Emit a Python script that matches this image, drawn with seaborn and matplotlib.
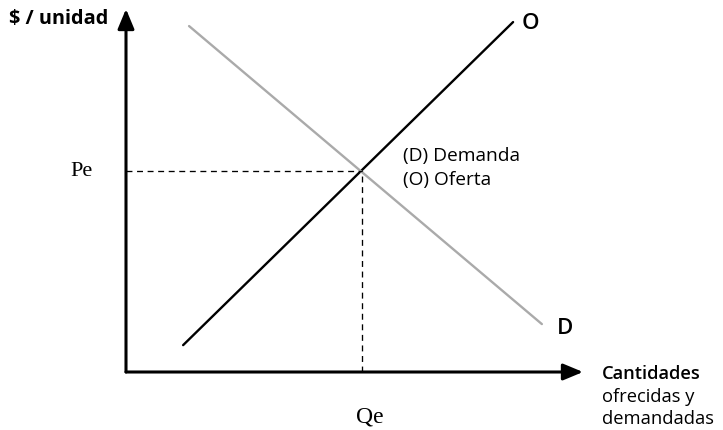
import matplotlib
matplotlib.use("Agg")
import matplotlib.pyplot as plt
import seaborn as sns
import pandas as pd

# ---- data (quantity, price) in chart units ----
curve_names = ["O", "D"]
supply_q = [1.25, 8.47]
supply_p = [0.74, 9.64]
demand_q = [1.38, 9.10]
demand_p = [9.53, 1.32]
q_eq = 5.16
p_eq = 5.54
eq_labels = ["Pe", "Qe"]
legend_lines = ["(D) Demanda", "(O) Oferta"]
y_label = "$ / unidad"
x_label_bold = "Cantidades"
x_label_rest = "ofrecidas y\ndemandadas"

sns.set_theme(style="white")
plt.rcParams["font.family"] = ["Open Sans", "DejaVu Sans"]

df = pd.DataFrame({
    "q": supply_q + demand_q,
    "p": supply_p + demand_p,
    "curva": [curve_names[0]] * 2 + [curve_names[1]] * 2,
})

fig = plt.figure(figsize=(7.23, 4.31), dpi=100)
ax = fig.add_axes([126 / 723, 58 / 431, (583 - 126) / 723, (373 - 10) / 431])
ax.set_xlim(0, 10)
ax.set_ylim(0, 10)
ax.axis("off")

sns.lineplot(data=df, x="q", y="p", hue="curva",
             palette={"O": "#000000", "D": "#aaaaaa"},
             linewidth=1.7, legend=False, ax=ax, clip_on=False)

# dashed equilibrium guides
ax.plot([0, q_eq], [p_eq, p_eq], color="black", lw=0.95, ls=(0, (4.5, 3.5)))
ax.plot([q_eq, q_eq], [0, p_eq], color="black", lw=0.95, ls=(0, (4.5, 3.5)))

# axes with arrows
arrow = dict(arrowstyle="-|>,head_length=1.2,head_width=0.5", color="black",
             lw=2.2, shrinkA=0, shrinkB=0, mutation_scale=10)
ax.annotate("", xy=(0, 10), xytext=(0, 0), arrowprops=arrow, annotation_clip=False)
ax.annotate("", xy=(10, 0), xytext=(0, 0), arrowprops=arrow, annotation_clip=False)
ax.plot([0, 0], [0, 0.01], color="black", lw=2.2, solid_capstyle="projecting")

# labels
ax.text(-0.38, 9.76, y_label, ha="right", va="center", fontsize=14.3,
        fontweight="bold", color="black")
ax.text(-0.72, p_eq, eq_labels[0], ha="right", va="center", fontsize=16,
        family="Liberation Serif", color="black")
ax.text(q_eq + 0.18, -1.2, eq_labels[1], ha="center", va="center", fontsize=17,
        family="Liberation Serif", color="black")
ax.text(supply_q[1] + 0.18, supply_p[1] - 0.02, curve_names[0], ha="left",
        va="center", fontsize=16, color="black", fontweight="semibold")
ax.text(demand_q[1] + 0.33, demand_p[1] - 0.1, curve_names[1], ha="left",
        va="center", fontsize=16, color="black", fontweight="semibold")
ax.text(6.06, 5.98, legend_lines[0], ha="left", va="center", fontsize=13.8, color="black")
ax.text(6.06, 5.32, legend_lines[1], ha="left", va="center", fontsize=13.8, color="black")
ax.text(10.42, -0.04, x_label_bold, ha="left", va="center", fontsize=13.2,
        fontweight="semibold", color="black")
ax.text(10.42, -0.4, x_label_rest, ha="left", va="top", fontsize=13.2,
        color="black", linespacing=1.3)

fig.savefig("out.png", dpi=100)
